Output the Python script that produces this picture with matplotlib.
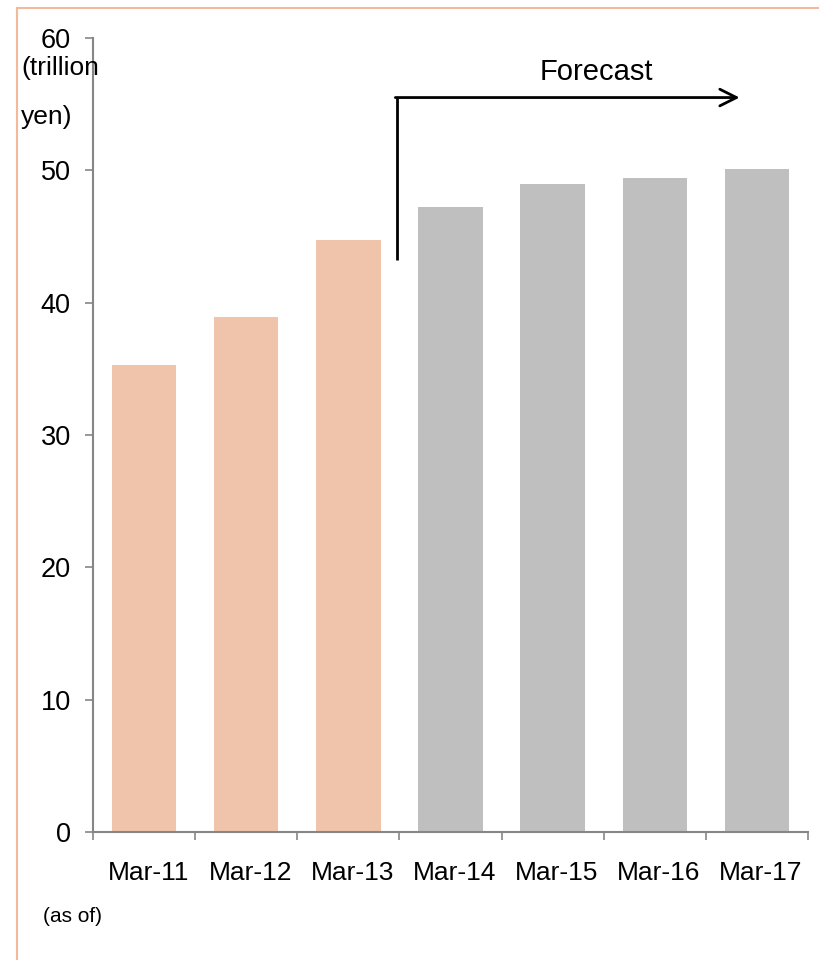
import matplotlib.pyplot as plt
from matplotlib.lines import Line2D
from matplotlib.transforms import ScaledTranslation

plt.rcParams['font.family'] = ['Liberation Sans', 'DejaVu Sans']

periods = ['Mar-11', 'Mar-12', 'Mar-13', 'Mar-14', 'Mar-15', 'Mar-16', 'Mar-17']
values = [35.3, 38.9, 44.7, 47.2, 49.0, 49.4, 50.1]
is_forecast = [False, False, False, True, True, True, True]

actual_color = '#F0C4AA'
forecast_color = '#BFBFBF'
axis_color = '#868686'

fig = plt.figure(figsize=(8.19, 9.6), dpi=100)
ax = fig.add_axes([93 / 819, 1 - 832 / 960, 715 / 819, 794 / 960])

x = list(range(len(periods)))
colors = [forecast_color if f else actual_color for f in is_forecast]
ax.bar(x, values, width=0.63, color=colors)

ax.set_xlim(-0.5, len(periods) - 0.5)
ax.set_ylim(0, 60)
ax.set_yticks(range(0, 61, 10))

# category labels at bar centres, tick marks on the boundaries
ax.set_xticks(x)
ax.set_xticklabels(periods)
ax.set_xticks([i - 0.5 for i in range(len(periods) + 1)], minor=True)
ax.tick_params(axis='x', which='major', length=0, pad=21, labelsize=19)
ax.tick_params(axis='x', which='minor', length=6, width=1.2, color=axis_color, direction='out')
ax.tick_params(axis='y', length=6, width=1.2, color=axis_color, pad=10, labelsize=19.5)
for lab in ax.get_xticklabels():
    lab.set_transform(lab.get_transform() + ScaledTranslation(0.04, 0, fig.dpi_scale_trans))

for side in ['top', 'right']:
    ax.spines[side].set_visible(False)
for side in ['left', 'bottom']:
    ax.spines[side].set_color(axis_color)
    ax.spines[side].set_linewidth(1.5)

# forecast bracket arrow
ax.plot([2.48, 2.48], [43.2, 55.5], color='black', lw=2, solid_capstyle='butt', clip_on=False)
ax.annotate('', xy=(5.83, 55.5), xytext=(2.46, 55.5),
            arrowprops=dict(arrowstyle='->', lw=2, color='black', shrinkA=0, shrinkB=0,
                            mutation_scale=30), annotation_clip=False)
ax.text(4.43, 57.45, 'Forecast', fontsize=21, ha='center', va='center')

fig.text(21 / 819, 1 - 68 / 960, '(trillion', fontsize=19, va='center', ha='left')
fig.text(21 / 819, 1 - 117 / 960, 'yen)', fontsize=19, va='center', ha='left')
fig.text(43 / 819, 1 - 917 / 960, '(as of)', fontsize=15, va='center', ha='left')

# frame lines along the top and left edge
border = '#F2B99A'
fig.add_artist(Line2D([17 / 819, 17 / 819], [0, 1 - 8 / 960], color=border, lw=1.5))
fig.add_artist(Line2D([17 / 819, 1], [1 - 8 / 960, 1 - 8 / 960], color=border, lw=1.5))

fig.savefig('out.png', dpi=100)
